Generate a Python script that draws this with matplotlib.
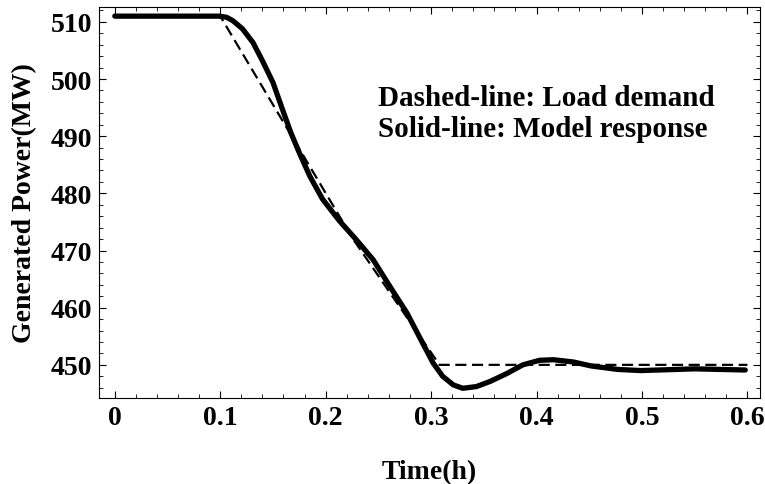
import matplotlib.pyplot as plt
from matplotlib.ticker import AutoMinorLocator

plt.rcParams['font.family'] = ['Liberation Serif', 'DejaVu Serif']
plt.rcParams['font.weight'] = 'bold'

# Lastanforderung (gestrichelt)
t_last = [0.0, 0.1, 0.226, 0.308, 0.6]
p_last = [511, 511, 472, 450, 450]

# Modellantwort (durchgezogen)
t_modell = [0.0, 0.099, 0.106, 0.112, 0.121, 0.131, 0.140, 0.150, 0.159, 0.167, 0.175,
            0.185, 0.197, 0.213, 0.229, 0.245, 0.261, 0.277, 0.292, 0.302, 0.311,
            0.321, 0.330, 0.343, 0.356, 0.372, 0.387, 0.403, 0.416, 0.435, 0.452,
            0.477, 0.499, 0.55, 0.598]
p_modell = [511, 511, 510.8, 510.2, 508.8, 506.4, 503.2, 499.4, 494.7, 490.6, 487.1,
            483.0, 479.0, 475.2, 471.9, 468.4, 463.7, 459.1, 453.8, 450.3, 448.0,
            446.5, 445.9, 446.2, 447.1, 448.5, 450.0, 450.8, 450.9, 450.5, 449.8,
            449.2, 449.0, 449.3, 449.1]

fig = plt.figure(figsize=(7.65, 4.85), dpi=100)
ax = fig.add_axes([0.1294, 0.1773, 0.8641, 0.8062])

ax.plot(t_last, p_last, color='black', lw=1.6, linestyle=(0, (5, 2.5)))
ax.plot(t_modell, p_modell, color='black', lw=3.8, solid_capstyle='round',
        solid_joinstyle='round')

ax.set_xlim(-0.015, 0.612)
ax.set_ylim(444.2, 512.6)
ax.set_xticks([0, 0.1, 0.2, 0.3, 0.4, 0.5, 0.6])
ax.set_xticklabels(['0', '0.1', '0.2', '0.3', '0.4', '0.5', '0.6'])
ax.set_yticks([450, 460, 470, 480, 490, 500, 510])
ax.xaxis.set_minor_locator(AutoMinorLocator(5))
ax.yaxis.set_minor_locator(AutoMinorLocator(5))
ax.tick_params(which='both', direction='in', top=True, right=True, labelsize=20)
ax.tick_params(which='major', length=5, width=0.8, pad=5)
ax.tick_params(which='minor', length=3, width=0.6)

ax.set_xlabel('Time(h)', fontsize=20, fontweight='bold')
ax.xaxis.set_label_coords(0.5, -0.156)
ax.set_ylabel('Generated Power(MW)', fontsize=20, fontweight='bold')
ax.yaxis.set_label_coords(-0.094, 0.5)

ax.text(0.25, 495.4, 'Dashed-line: Load demand', fontsize=21, fontweight='bold', va='baseline')
ax.text(0.25, 490.0, 'Solid-line: Model response', fontsize=21, fontweight='bold', va='baseline')

fig.savefig('out.png', dpi=100)
